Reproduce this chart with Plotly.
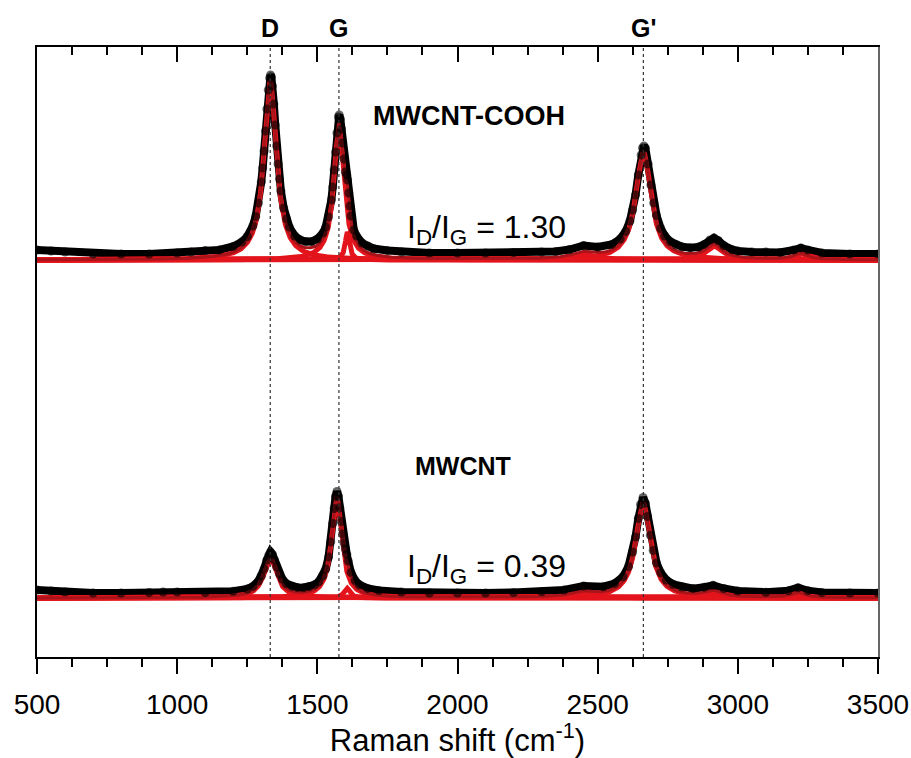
import numpy as np
import plotly.graph_objects as go

# ---------------- data ----------------
# Raman shift (cm-1) and intensity above the fitted baseline (a.u.)
x_cooh = [500, 550, 600, 700, 800, 900, 1000, 1050, 1100, 1150, 1200, 1230, 1250, 1270, 1280,
          1290, 1300, 1305, 1310, 1315, 1320, 1325, 1330, 1333, 1336, 1340, 1345, 1350, 1355,
          1360, 1365, 1370, 1380, 1390, 1400, 1420, 1440, 1460, 1480, 1500, 1520, 1530, 1540,
          1550, 1555, 1560, 1565, 1570, 1575, 1578, 1582, 1586, 1590, 1595, 1600, 1605, 1608,
          1612, 1616, 1620, 1630, 1640, 1660, 1680, 1700, 1750, 1800, 1900, 2000, 2100, 2200,
          2300, 2350, 2400, 2450, 2500, 2550, 2580, 2600, 2615, 2625, 2635, 2645, 2655, 2660,
          2665, 2670, 2680, 2690, 2700, 2710, 2725, 2740, 2760, 2780, 2800, 2830, 2860, 2880,
          2900, 2915, 2930, 2950, 2980, 3000, 3050, 3100, 3150, 3200, 3225, 3250, 3300, 3400, 3500]
y_cooh = [10, 9, 8, 6, 6, 6, 7, 8, 9.5, 10, 13.5, 18, 23.5, 34, 43.5,
          57, 78, 92, 109, 129, 151, 170, 182, 185, 183, 174, 156, 135, 114,
          96, 81, 69, 52, 41, 33, 24, 20, 18.5, 18.5, 21, 27, 33, 43,
          60, 73, 90, 108, 127, 143, 145, 141, 131, 117, 101, 88, 85, 80,
          67, 54, 44, 30, 24, 17, 14, 11.5, 9.5, 8, 7, 7, 7, 7.5,
          8, 8.5, 10.5, 14.5, 13, 15.5, 21, 28.5, 39, 50, 65, 85, 105, 112,
          114, 112, 96, 75, 57, 44.5, 31.5, 24, 18.3, 15, 13.3, 12.2, 13, 15.6,
          20, 22, 19.5, 14.5, 10.3, 9, 8, 8, 7.5, 10, 12, 10, 7, 6, 6]

x_mw = [500, 550, 600, 700, 800, 900, 950, 1000, 1100, 1200, 1250, 1270, 1290, 1300, 1310,
        1320, 1327, 1333, 1340, 1347, 1355, 1365, 1375, 1390, 1410, 1430, 1450, 1470, 1490,
        1505, 1520, 1530, 1540, 1548, 1555, 1560, 1565, 1570, 1575, 1580, 1585, 1590, 1595,
        1600, 1605, 1610, 1620, 1635, 1650, 1680, 1720, 1800, 1900, 2000, 2100, 2200, 2300,
        2380, 2450, 2520, 2560, 2590, 2610, 2625, 2635, 2645, 2653, 2662, 2670, 2678, 2688,
        2698, 2710, 2725, 2745, 2770, 2800, 2840, 2880, 2912, 2950, 3000, 3100, 3180, 3215,
        3250, 3300, 3400, 3500]
y_mw = [8, 7, 6, 5, 5, 5.5, 6, 6, 5.5, 6.7, 9, 11.6, 17, 22, 29,
        38, 43, 46, 43.5, 38, 31, 24, 19, 14.3, 11.6, 10.5, 10.3, 11.2, 13.2,
        16.3, 22.1, 29, 41, 56, 74.5, 89.5, 101.5, 106.5, 102, 90.3, 76.4, 64, 55,
        49, 43.8, 37, 25.6, 17.4, 13.3, 9.6, 7.5, 6, 5, 5, 5, 5.5, 6.2,
        8, 12, 11.3, 14.4, 21.2, 31.5, 46, 61, 79.5, 93.5, 100.5, 95, 81.5, 62.7,
        47.5, 35, 25.3, 18, 13.7, 11, 9.4, 10.8, 12.7, 9.5, 7, 5.8, 7.3, 10.3,
        7.2, 5.5, 5, 5]

# Lorentzian fit components: centre, height, half width at half maximum
cooh_centers = [1332, 1577, 1607, 2450, 2663, 2915, 3225]
cooh_heights = [178, 132, 28, 6, 108, 14, 6]
cooh_hwhm = [27, 22, 9, 50, 33, 35, 30]

mw_centers = [1332, 1569, 1605, 2450, 2662, 2912, 3215]
mw_heights = [40, 100, 10, 5, 95, 6, 5]
mw_hwhm = [28, 22, 12, 50, 32, 40, 30]

# vertical stacking offsets of the two spectra
cooh_offset = 397
mw_offset = 59

band_positions = [1332, 1577, 2663]
band_labels = ["D", "G", "G'"]

minor_ticks = [v for v in range(500, 3501, 125) if v % 500 != 0]

FONT = "Liberation Sans, Arial, sans-serif"
RED = "#e3141c"
DARKRED = "#a8141a"


def lorentz(x, c, h, w):
    return h / (1.0 + ((x - c) / w) ** 2)


xg = np.arange(500, 3501, 1.0)

fig = go.Figure()


def add_spectrum(xd, yd, centers, heights, widths, off):
    yd = np.array(yd, dtype=float) + off
    # measured data as a dense black band
    fig.add_trace(go.Scatter(x=xd, y=yd, mode="lines",
                             line=dict(color="black", width=8), hoverinfo="skip",
                             showlegend=False))
    total = np.zeros_like(xg)
    for c, h, w in zip(centers, heights, widths):
        comp = lorentz(xg, c, h, w)
        total += comp
        fig.add_trace(go.Scatter(x=xg, y=comp + off, mode="lines",
                                 line=dict(color=RED, width=5), hoverinfo="skip",
                                 showlegend=False))
    fig.add_trace(go.Scatter(x=xg, y=total + off, mode="lines",
                             line=dict(color=DARKRED, width=3), hoverinfo="skip",
                             showlegend=False))
    fig.add_trace(go.Scatter(x=xd, y=yd, mode="markers",
                             marker=dict(color="black", size=9, opacity=0.6),
                             hoverinfo="skip", showlegend=False))


add_spectrum(x_cooh, y_cooh, cooh_centers, cooh_heights, cooh_hwhm, cooh_offset)
add_spectrum(x_mw, y_mw, mw_centers, mw_heights, mw_hwhm, mw_offset)

# dummy trace to activate the top / right frame axes
fig.add_trace(go.Scatter(x=[500], y=[0], xaxis="x2", yaxis="y2", mode="markers",
                         marker=dict(opacity=0), hoverinfo="skip", showlegend=False))

for xv, lab in zip(band_positions, band_labels):
    fig.add_shape(type="line", x0=xv, x1=xv, y0=0, y1=1, xref="x", yref="paper",
                  line=dict(color="#333333", width=1.2, dash="dot"), layer="above")
    fig.add_annotation(x=xv, y=1.031, xref="x", yref="paper", text="<b>%s</b>" % lab,
                       showarrow=False, font=dict(family=FONT, size=25, color="black"),
                       yanchor="middle")

texts = [
    (2041, 541, "<b>MWCNT-COOH</b>", 27),
    (2102, 428, "I<sub>D</sub>/I<sub>G</sub> = 1.30", 32),
    (2020, 191, "<b>MWCNT</b>", 25),
    (2102, 89, "I<sub>D</sub>/I<sub>G</sub> = 0.39", 32),
]
for tx, ty, tt, fs in texts:
    fig.add_annotation(x=tx, y=ty, xref="x", yref="y", text=tt, showarrow=False,
                       font=dict(family=FONT, size=fs, color="black"),
                       yanchor="middle")

fig.update_layout(
    width=911, height=758,
    margin=dict(l=37, r=33, t=47, b=101, autoexpand=False),
    paper_bgcolor="white", plot_bgcolor="white",
    font=dict(family=FONT, color="black"),
    xaxis=dict(range=[500, 3500], tick0=500, dtick=500, ticks="outside", ticklen=15,
               tickwidth=2, tickcolor="black", showline=True, linewidth=2, linecolor="black",
               showgrid=False, zeroline=False, tickfont=dict(size=28, family=FONT),
               ticklabelstandoff=6, automargin=False,
               minor=dict(tickvals=minor_ticks, ticks="outside", ticklen=8, tickwidth=2,
                          tickcolor="black", showgrid=False),
               title=dict(text="Raman shift (cm<sup>-1</sup>)", font=dict(size=31, family=FONT),
                          standoff=2)),
    xaxis2=dict(range=[500, 3500], overlaying="x", side="top", anchor="y", tick0=500,
                dtick=500, ticks="inside", ticklen=15, tickwidth=2, tickcolor="black",
                showticklabels=False, showline=True, linewidth=2, linecolor="black",
                showgrid=False, zeroline=False, automargin=False,
                minor=dict(tickvals=minor_ticks, ticks="inside", ticklen=8, tickwidth=2,
                           tickcolor="black", showgrid=False)),
    yaxis=dict(range=[0, 610], showline=True, linewidth=2, linecolor="black",
               showticklabels=False, ticks="", showgrid=False, zeroline=False,
               automargin=False),
    yaxis2=dict(range=[0, 610], overlaying="y", side="right", anchor="x", showline=True,
                linewidth=1.5, linecolor="#666666", showticklabels=False, ticks="",
                showgrid=False, zeroline=False, automargin=False),
)

fig.write_html("out.html")
